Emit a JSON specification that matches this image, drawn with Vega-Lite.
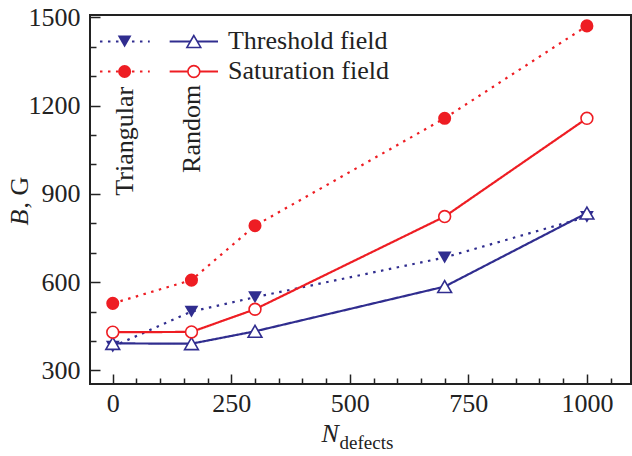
{
  "$schema": "https://vega.github.io/schema/vega-lite/v6.json",
  "width": 541,
  "height": 369,
  "autosize": {"type": "none"},
  "padding": {"left": 90, "top": 15, "right": 1, "bottom": 72},
  "background": "white",
  "config": {
    "font": "Liberation Serif, Times New Roman, serif",
    "view": {"stroke": "#222", "strokeWidth": 2},
    "axis": {"labelFont": "Liberation Serif, Times New Roman, serif", "titleFont": "Liberation Serif, Times New Roman, serif", "grid": false, "domain": false, "tickColor": "#222", "tickWidth": 1.5, "labelColor": "#222", "titleColor": "#222", "labelFlush": false, "labelOverlap": false},
    "text": {"font": "Liberation Serif, Times New Roman, serif"}
  },
  "datasets": {
    "series": [
      {"N": 0, "B": 381, "field": "Threshold", "arr": "Triangular", "kind": "data"},
      {"N": 166, "B": 500, "field": "Threshold", "arr": "Triangular", "kind": "data"},
      {"N": 300, "B": 549, "field": "Threshold", "arr": "Triangular", "kind": "data"},
      {"N": 700, "B": 684, "field": "Threshold", "arr": "Triangular", "kind": "data"},
      {"N": 1000, "B": 822, "field": "Threshold", "arr": "Triangular", "kind": "data"},
      {"N": 0, "B": 528, "field": "Saturation", "arr": "Triangular", "kind": "data"},
      {"N": 166, "B": 607, "field": "Saturation", "arr": "Triangular", "kind": "data"},
      {"N": 300, "B": 792, "field": "Saturation", "arr": "Triangular", "kind": "data"},
      {"N": 700, "B": 1157, "field": "Saturation", "arr": "Triangular", "kind": "data"},
      {"N": 1000, "B": 1471, "field": "Saturation", "arr": "Triangular", "kind": "data"},
      {"N": 0, "B": 392, "field": "Threshold", "arr": "Random", "kind": "data"},
      {"N": 166, "B": 391, "field": "Threshold", "arr": "Random", "kind": "data"},
      {"N": 300, "B": 433, "field": "Threshold", "arr": "Random", "kind": "data"},
      {"N": 700, "B": 585, "field": "Threshold", "arr": "Random", "kind": "data"},
      {"N": 1000, "B": 835, "field": "Threshold", "arr": "Random", "kind": "data"},
      {"N": 0, "B": 430, "field": "Saturation", "arr": "Random", "kind": "data"},
      {"N": 166, "B": 431, "field": "Saturation", "arr": "Random", "kind": "data"},
      {"N": 300, "B": 508, "field": "Saturation", "arr": "Random", "kind": "data"},
      {"N": 700, "B": 823, "field": "Saturation", "arr": "Random", "kind": "data"},
      {"N": 1000, "B": 1157, "field": "Saturation", "arr": "Random", "kind": "data"},
      {"N": -27, "B": 1418, "field": "Threshold", "arr": "Triangular", "kind": "lend"},
      {"N": 78, "B": 1418, "field": "Threshold", "arr": "Triangular", "kind": "lend"},
      {"N": 25, "B": 1418, "field": "Threshold", "arr": "Triangular", "kind": "lmid"},
      {"N": 120, "B": 1418, "field": "Threshold", "arr": "Random", "kind": "lend"},
      {"N": 222, "B": 1418, "field": "Threshold", "arr": "Random", "kind": "lend"},
      {"N": 171, "B": 1418, "field": "Threshold", "arr": "Random", "kind": "lmid"},
      {"N": -27, "B": 1316, "field": "Saturation", "arr": "Triangular", "kind": "lend"},
      {"N": 78, "B": 1316, "field": "Saturation", "arr": "Triangular", "kind": "lend"},
      {"N": 25, "B": 1316, "field": "Saturation", "arr": "Triangular", "kind": "lmid"},
      {"N": 120, "B": 1316, "field": "Saturation", "arr": "Random", "kind": "lend"},
      {"N": 222, "B": 1316, "field": "Saturation", "arr": "Random", "kind": "lend"},
      {"N": 171, "B": 1316, "field": "Saturation", "arr": "Random", "kind": "lmid"}
    ],
    "rotlabels": [
      {"N": 42, "B": 1079, "text": "Triangular"},
      {"N": 183, "B": 1121, "text": "Random"}
    ],
    "legendtext": [
      {"N": 243, "B": 1418, "text": "Threshold field"},
      {"N": 243, "B": 1316, "text": "Saturation field"}
    ]
  },
  "resolve": {"axis": {"x": "independent", "y": "independent"}},
  "layer": [
    {
      "data": {"name": "series"},
      "transform": [{"filter": "datum.kind != 'lmid'"}],
      "mark": {"type": "line", "strokeWidth": 2.2, "strokeCap": "butt"},
      "encoding": {
        "x": {"field": "N", "type": "quantitative", "scale": {"domain": [-48, 1093], "nice": false, "zero": false},
          "axis": {"orient": "bottom", "offset": -10, "values": [0, 250, 500, 750, 1000], "format": "d", "tickSize": 10, "labelFontSize": 26, "labelPadding": 6,
            "title": "N", "titleFontStyle": "italic", "titleFontWeight": "normal", "titleFontSize": 26, "titleX": 231, "titleY": 67, "titleAlign": "left", "titleBaseline": "alphabetic"}},
        "y": {"field": "B", "type": "quantitative", "scale": {"domain": [254, 1508], "nice": false, "zero": false},
          "axis": {"orient": "left", "offset": -10, "values": [300, 600, 900, 1200, 1500], "format": "d", "tickSize": 10, "labelFontSize": 26, "labelPadding": 10,
            "title": "B", "titleFontStyle": "italic", "titleFontWeight": "normal", "titleFontSize": 26, "titleAngle": 270, "titleX": -73, "titleY": 210, "titleAlign": "left", "titleBaseline": "alphabetic"}},
        "color": {"field": "field", "type": "nominal", "scale": {"domain": ["Threshold", "Saturation"], "range": ["#302D8F", "#EE1D23"]}, "legend": null},
        "strokeDash": {"field": "arr", "type": "nominal", "scale": {"domain": ["Triangular", "Random"], "range": [[2.5, 5.5], [1, 0]]}, "legend": null},
        "detail": {"field": "kind"}
      }
    },
    {
      "data": {"name": "series"},
      "transform": [{"filter": "datum.kind != 'lend' && datum.field == 'Threshold' && datum.arr == 'Triangular'"}],
      "mark": {"type": "point", "shape": "triangle-down", "filled": true, "color": "#302D8F", "size": 190, "opacity": 1},
      "encoding": {
        "x": {"field": "N", "type": "quantitative",
          "axis": {"orient": "bottom", "offset": -6, "values": [50, 100, 150, 200, 300, 350, 400, 450, 550, 600, 650, 700, 800, 850, 900, 950, 1050], "tickSize": 6, "labels": false,
            "title": "defects", "titleFontWeight": "normal", "titleFontSize": 19, "titleX": 249, "titleY": 70, "titleAlign": "left", "titleBaseline": "alphabetic"}},
        "y": {"field": "B", "type": "quantitative",
          "axis": {"orient": "left", "offset": -6, "values": [400, 500, 700, 800, 1000, 1100, 1300, 1400], "tickSize": 6, "labels": false,
            "title": ", G", "titleFontWeight": "normal", "titleFontSize": 26, "titleAngle": 270, "titleX": -69, "titleY": 193, "titleAlign": "left", "titleBaseline": "alphabetic"}}
      }
    },
    {
      "data": {"name": "series"},
      "transform": [{"filter": "datum.kind != 'lend' && datum.field == 'Threshold' && datum.arr == 'Random'"}],
      "mark": {"type": "point", "shape": "triangle-up", "filled": true, "fill": "white", "stroke": "#302D8F", "strokeWidth": 1.6, "size": 190, "opacity": 1},
      "encoding": {
        "x": {"field": "N", "type": "quantitative", "axis": null},
        "y": {"field": "B", "type": "quantitative", "axis": null}
      }
    },
    {
      "data": {"name": "series"},
      "transform": [{"filter": "datum.kind != 'lend' && datum.field == 'Saturation' && datum.arr == 'Triangular'"}],
      "mark": {"type": "point", "shape": "circle", "filled": true, "color": "#EE1D23", "size": 170, "opacity": 1},
      "encoding": {
        "x": {"field": "N", "type": "quantitative", "axis": null},
        "y": {"field": "B", "type": "quantitative", "axis": null}
      }
    },
    {
      "data": {"name": "series"},
      "transform": [{"filter": "datum.kind != 'lend' && datum.field == 'Saturation' && datum.arr == 'Random'"}],
      "mark": {"type": "point", "shape": "circle", "filled": true, "fill": "white", "stroke": "#EE1D23", "strokeWidth": 1.6, "size": 140, "opacity": 1},
      "encoding": {
        "x": {"field": "N", "type": "quantitative", "axis": null},
        "y": {"field": "B", "type": "quantitative", "axis": null}
      }
    },
    {
      "data": {"name": "rotlabels"},
      "mark": {"type": "text", "angle": 270, "align": "center", "baseline": "alphabetic", "fontSize": 26, "color": "#222"},
      "encoding": {
        "x": {"field": "N", "type": "quantitative", "axis": null},
        "y": {"field": "B", "type": "quantitative", "axis": null},
        "text": {"field": "text"}
      }
    },
    {
      "data": {"name": "legendtext"},
      "mark": {"type": "text", "align": "left", "baseline": "middle", "fontSize": 26, "color": "#222"},
      "encoding": {
        "x": {"field": "N", "type": "quantitative", "axis": null},
        "y": {"field": "B", "type": "quantitative", "axis": null},
        "text": {"field": "text"}
      }
    }
  ]
}
